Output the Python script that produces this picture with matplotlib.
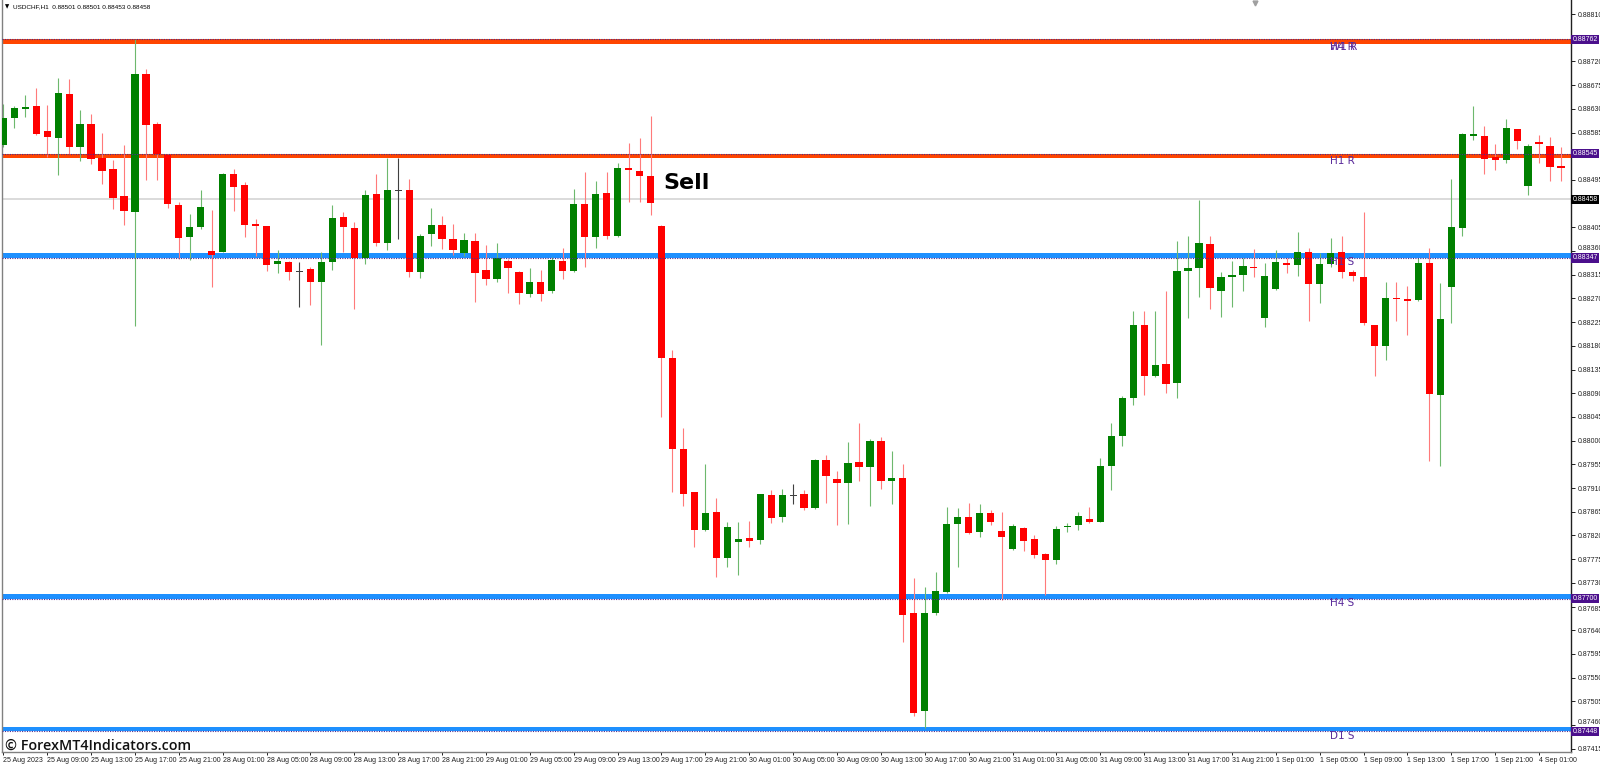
import matplotlib
matplotlib.use("Agg")
import matplotlib.pyplot as plt
import matplotlib.transforms as mtransforms
import numpy as np

# H1 candles, 25 Aug 2023 05:00 .. 4 Sep 2023 03:00
opens = [0.88561, 0.88612, 0.88632, 0.88635, 0.88587, 0.88575, 0.88659, 0.88557, 0.88602, 0.88537,
         0.88515, 0.88465, 0.88435, 0.88697, 0.88601, 0.88542, 0.88447, 0.88386, 0.88405, 0.88360,
         0.88358, 0.88506, 0.88486, 0.88411, 0.88407, 0.88336, 0.88340, 0.88321, 0.88326, 0.88301,
         0.88340, 0.88425, 0.88404, 0.88346, 0.88469, 0.88375, 0.88475, 0.88476, 0.88320, 0.88393,
         0.88409, 0.88383, 0.88357, 0.88379, 0.88324, 0.88306, 0.88341, 0.88321, 0.88278, 0.88302,
         0.88285, 0.88341, 0.88323, 0.88450, 0.88387, 0.88471, 0.88389, 0.88518, 0.88511, 0.88503,
         0.88407, 0.88156, 0.87984, 0.87902, 0.87831, 0.87864, 0.87778, 0.87807, 0.87815, 0.87811,
         0.87897, 0.87855, 0.87896, 0.87899, 0.87872, 0.87963, 0.87927, 0.87919, 0.87959, 0.87949,
         0.88000, 0.87924, 0.87929, 0.87672, 0.87487, 0.87673, 0.87713, 0.87842, 0.87855, 0.87826,
         0.87863, 0.87828, 0.87794, 0.87835, 0.87813, 0.87785, 0.87773, 0.87837, 0.87840, 0.87851,
         0.87846, 0.87951, 0.88009, 0.88080, 0.88219, 0.88123, 0.88145, 0.88110, 0.88322, 0.88327,
         0.88373, 0.88285, 0.88311, 0.88315, 0.88332, 0.88232, 0.88288, 0.88338, 0.88334, 0.88358,
         0.88297, 0.88335, 0.88358, 0.88321, 0.88310, 0.88219, 0.88180, 0.88271, 0.88268, 0.88267,
         0.88337, 0.88087, 0.88292, 0.88404, 0.88580, 0.88578, 0.88538, 0.88533, 0.88592, 0.88484,
         0.88566, 0.88560, 0.88521]
highs = [0.88640, 0.88635, 0.88656, 0.88669, 0.88637, 0.88688, 0.88687, 0.88627, 0.88620, 0.88585,
         0.88533, 0.88561, 0.88763, 0.88705, 0.88605, 0.88544, 0.88454, 0.88431, 0.88476, 0.88438,
         0.88508, 0.88516, 0.88491, 0.88421, 0.88408, 0.88361, 0.88341, 0.88339, 0.88329, 0.88358,
         0.88447, 0.88435, 0.88416, 0.88476, 0.88506, 0.88536, 0.88536, 0.88497, 0.88393, 0.88441,
         0.88427, 0.88412, 0.88394, 0.88394, 0.88371, 0.88375, 0.88345, 0.88322, 0.88328, 0.88324,
         0.88349, 0.88365, 0.88478, 0.88510, 0.88492, 0.88510, 0.88528, 0.88565, 0.88574, 0.88616,
         0.88409, 0.88172, 0.88024, 0.87903, 0.87955, 0.87891, 0.87845, 0.87845, 0.87848, 0.87899,
         0.87906, 0.87908, 0.87917, 0.87906, 0.87965, 0.87972, 0.87943, 0.87998, 0.88033, 0.88004,
         0.88007, 0.87980, 0.87956, 0.87740, 0.87723, 0.87751, 0.87874, 0.87873, 0.87882, 0.87879,
         0.87868, 0.87864, 0.87842, 0.87836, 0.87820, 0.87786, 0.87838, 0.87844, 0.87864, 0.87874,
         0.87967, 0.88034, 0.88085, 0.88246, 0.88246, 0.88246, 0.88285, 0.88379, 0.88389, 0.88457,
         0.88388, 0.88320, 0.88341, 0.88346, 0.88364, 0.88337, 0.88361, 0.88346, 0.88396, 0.88366,
         0.88356, 0.88384, 0.88389, 0.88324, 0.88435, 0.88219, 0.88301, 0.88302, 0.88294, 0.88346,
         0.88366, 0.88299, 0.88496, 0.88584, 0.88636, 0.88597, 0.88563, 0.88611, 0.88592, 0.88563,
         0.88581, 0.88577, 0.88558]
lows = [0.88558, 0.88594, 0.88614, 0.88580, 0.88539, 0.88504, 0.88544, 0.88531, 0.88526, 0.88487,
        0.88440, 0.88409, 0.88218, 0.88495, 0.88495, 0.88441, 0.88345, 0.88342, 0.88401, 0.88291,
        0.88358, 0.88436, 0.88386, 0.88351, 0.88323, 0.88319, 0.88305, 0.88253, 0.88257, 0.88182,
        0.88324, 0.88358, 0.88250, 0.88335, 0.88370, 0.88362, 0.88383, 0.88311, 0.88309, 0.88370,
        0.88363, 0.88352, 0.88351, 0.88264, 0.88296, 0.88301, 0.88280, 0.88259, 0.88272, 0.88265,
        0.88280, 0.88307, 0.88321, 0.88330, 0.88366, 0.88383, 0.88386, 0.88454, 0.88454, 0.88428,
        0.88045, 0.87903, 0.87875, 0.87798, 0.87829, 0.87742, 0.87761, 0.87744, 0.87798, 0.87803,
        0.87844, 0.87846, 0.87879, 0.87868, 0.87871, 0.87882, 0.87839, 0.87842, 0.87923, 0.87876,
        0.87908, 0.87880, 0.87617, 0.87477, 0.87454, 0.87668, 0.87710, 0.87760, 0.87823, 0.87817,
        0.87840, 0.87697, 0.87792, 0.87791, 0.87777, 0.87707, 0.87766, 0.87826, 0.87830, 0.87844,
        0.87845, 0.87906, 0.87989, 0.88068, 0.88087, 0.88121, 0.88090, 0.88080, 0.88232, 0.88273,
        0.88249, 0.88235, 0.88254, 0.88285, 0.88311, 0.88215, 0.88286, 0.88318, 0.88313, 0.88228,
        0.88261, 0.88330, 0.88308, 0.88303, 0.88219, 0.88123, 0.88153, 0.88228, 0.88201, 0.88265,
        0.87962, 0.87951, 0.88224, 0.88389, 0.88570, 0.88507, 0.88513, 0.88527, 0.88553, 0.88466,
        0.88527, 0.88492, 0.88492]
closes = [0.88612, 0.88632, 0.88635, 0.88582, 0.88577, 0.88660, 0.88557, 0.88602, 0.88535, 0.88512,
          0.88461, 0.88436, 0.88696, 0.88600, 0.88544, 0.88449, 0.88384, 0.88406, 0.88443, 0.88352,
          0.88506, 0.88482, 0.88409, 0.88407, 0.88334, 0.88341, 0.88320, 0.88321, 0.88301, 0.88339,
          0.88423, 0.88405, 0.88346, 0.88466, 0.88375, 0.88475, 0.88475, 0.88320, 0.88389, 0.88409,
          0.88383, 0.88361, 0.88381, 0.88319, 0.88306, 0.88346, 0.88327, 0.88281, 0.88302, 0.88279,
          0.88343, 0.88322, 0.88449, 0.88387, 0.88469, 0.88388, 0.88517, 0.88514, 0.88502, 0.88451,
          0.88156, 0.87984, 0.87899, 0.87830, 0.87863, 0.87778, 0.87836, 0.87813, 0.87809, 0.87899,
          0.87854, 0.87896, 0.87896, 0.87872, 0.87963, 0.87932, 0.87919, 0.87958, 0.87950, 0.87999,
          0.87924, 0.87929, 0.87668, 0.87482, 0.87672, 0.87715, 0.87842, 0.87855, 0.87824, 0.87863,
          0.87846, 0.87817, 0.87837, 0.87810, 0.87783, 0.87773, 0.87833, 0.87839, 0.87856, 0.87846,
          0.87951, 0.88009, 0.88080, 0.88219, 0.88123, 0.88143, 0.88108, 0.88322, 0.88328, 0.88375,
          0.88289, 0.88310, 0.88315, 0.88332, 0.88329, 0.88313, 0.88339, 0.88334, 0.88358, 0.88298,
          0.88335, 0.88356, 0.88321, 0.88313, 0.88223, 0.88180, 0.88271, 0.88270, 0.88267, 0.88337,
          0.88088, 0.88231, 0.88406, 0.88582, 0.88582, 0.88535, 0.88533, 0.88593, 0.88568, 0.88560,
          0.88565, 0.88519, 0.88519]

time_labels = ["25 Aug 2023", "25 Aug 09:00", "25 Aug 13:00", "25 Aug 17:00", "25 Aug 21:00",
               "28 Aug 01:00", "28 Aug 05:00", "28 Aug 09:00", "28 Aug 13:00", "28 Aug 17:00", "28 Aug 21:00",
               "29 Aug 01:00", "29 Aug 05:00", "29 Aug 09:00", "29 Aug 13:00", "29 Aug 17:00", "29 Aug 21:00",
               "30 Aug 01:00", "30 Aug 05:00", "30 Aug 09:00", "30 Aug 13:00", "30 Aug 17:00", "30 Aug 21:00",
               "31 Aug 01:00", "31 Aug 05:00", "31 Aug 09:00", "31 Aug 13:00", "31 Aug 17:00", "31 Aug 21:00",
               "1 Sep 01:00", "1 Sep 05:00", "1 Sep 09:00", "1 Sep 13:00", "1 Sep 17:00", "1 Sep 21:00",
               "4 Sep 01:00"]

# support / resistance levels
resist_levels = [0.88762, 0.88545]
resist_names = ["W1 R", "H1 R"]
support_levels = [0.88347, 0.87700, 0.87448]
support_names = ["H1 S", "H4 S", "D1 S"]
current_price = 0.88458
header = "USDCHF,H1  0.88501 0.88501 0.88453 0.88458"

price_ticks = np.round(np.arange(0.87415, 0.88811, 0.00045), 5)

bull = "#008000"
bear = "#FF0000"
red_line = "#FF4500"
blue_line = "#1E90FF"
dots = "#4B2C8F"
label_col = "#5B2C9B"
box_col = "#4B0F8C"

ymin, ymax = 0.874088, 0.888366
px = (ymax - ymin) / 752.0   # price per pixel

fig = plt.figure(figsize=(16, 7.65), dpi=100)
ax = fig.add_axes([2/1600, 13/765, 1569/1600, 752/765])
ax.set_xlim(-0.12, 142.91)
ax.set_ylim(ymin, ymax)

#level bands behind the candles
for lv in resist_levels:
    ax.axhspan(lv - 4.5*px, lv, color=red_line, lw=0, zorder=1)
for lv in support_levels:
    ax.axhspan(lv, lv + 4.5*px, color=blue_line, lw=0, zorder=1)
ax.axhline(current_price, color="#DADADA", lw=1.4, zorder=1)

#candles
o = np.array(opens); h = np.array(highs); l = np.array(lows); c = np.array(closes)
x = np.arange(len(o))
cols = np.where(c > o, bull, np.where(c < o, bear, "#404040"))
wick_cols = np.where(c > o, "#6DB86D", np.where(c < o, "#FF7A7A", "#404040"))
ax.vlines(x, l, h, colors=wick_cols, lw=0.8, zorder=2)
bot = np.minimum(o, c)
hgt = np.maximum(np.abs(c - o), 1.6*px)
ax.bar(x, hgt, bottom=bot - np.where(np.abs(c - o) < 1.6*px, 0.8*px, 0), width=0.66,
       color=cols, lw=0, zorder=3)

#dotted level lines over everything
for lv in resist_levels + support_levels:
    ax.axhline(lv, color=dots, lw=0.8, ls=(0, (1, 1.2)), zorder=4)

#level labels
lab_x = 120.9
for lv, nm in zip(resist_levels, resist_names):
    ax.annotate(nm, (lab_x, lv), xytext=(0, -5.4), textcoords="offset points",
                color=label_col, fontsize=7.5, va="center", ha="left", zorder=5)
ax.annotate("H4 R", (lab_x, resist_levels[0]), xytext=(0, -5.4), textcoords="offset points",
            color=label_col, fontsize=7.5, va="center", ha="left", zorder=5)
for lv, nm in zip(support_levels, support_names):
    ax.annotate(nm, (lab_x, lv), xytext=(0, -3.0), textcoords="offset points",
                color=label_col, fontsize=7.5, va="center", ha="left", zorder=5)

ax.text(60.2, 0.88489, "Sell", fontsize=16, fontweight="bold", color="black",
        va="center", ha="left", zorder=6)

#axes look
ax.spines["top"].set_visible(False)
ax.spines["left"].set_color("#808080")
ax.spines["bottom"].set_color("#808080")
ax.spines["right"].set_color("#202020")
for s in ["left", "bottom", "right"]:
    ax.spines[s].set_linewidth(1.0)

# price scale: hide the plain ticks that sit under a value box, nudge close ones away
special = resist_levels + support_levels + [current_price]
shown = [t for t in price_ticks if min(abs(t - s) for s in special) / px > 5]
ax.yaxis.tick_right()
ax.set_yticks(shown)
ax.set_yticklabels([f"{t:.5f}" for t in shown], fontfamily="Liberation Sans")
ax.tick_params(axis="y", length=3, width=0.7, pad=1.5, labelsize=5, colors="#202020")
for t, lab in zip(shown, ax.get_yticklabels()):
    near = min(special, key=lambda s: abs(t - s))
    d = (t - near) / px
    if abs(d) < 10:
        shift = (10 - abs(d)) * np.sign(d) / 100.0
        lab.set_transform(lab.get_transform() + mtransforms.ScaledTranslation(0, shift, fig.dpi_scale_trans))

ax.set_xticks(np.arange(0, 141, 4))
ax.set_xticklabels(time_labels, fontfamily="Liberation Sans", ha="left")
ax.tick_params(axis="x", length=2.5, width=0.7, pad=1.2, labelsize=5, colors="#202020")

#value boxes on the price scale
trans = mtransforms.blended_transform_factory(ax.transAxes, ax.transData)
for lv in resist_levels + support_levels:
    ax.text(1.0008, lv, f"{lv:.5f}", transform=trans, fontsize=5, color="white",
            fontfamily="Liberation Sans", va="center", ha="left", clip_on=False, zorder=7,
            bbox=dict(facecolor=box_col, edgecolor="none", pad=0.9))
ax.text(1.0008, current_price, f"{current_price:.5f}", transform=trans, fontsize=5, color="white",
        fontfamily="Liberation Sans", va="center", ha="left", clip_on=False, zorder=7,
        bbox=dict(facecolor="black", edgecolor="none", pad=0.9))

#header, chart shift mark, watermark
fig.text(5/1600, 1 - 7/765, "\u25BC", fontsize=4, color="black", va="center", ha="left")
fig.text(13/1600, 1 - 7/765, header, fontsize=4.6, color="black", va="center", ha="left",
         fontfamily="Liberation Sans")
ax.plot([114.1], [ymax - 3*px], marker="v", ms=3.5, color="#A0A0A0", clip_on=False, zorder=6)
fig.text(5/1600, 19/765, "\u00A9 ForexMT4Indicators.com", fontsize=10.3, color="#111111",
         fontfamily="Open Sans", fontweight="semibold", va="center", ha="left")

fig.savefig("out.png", dpi=100)
